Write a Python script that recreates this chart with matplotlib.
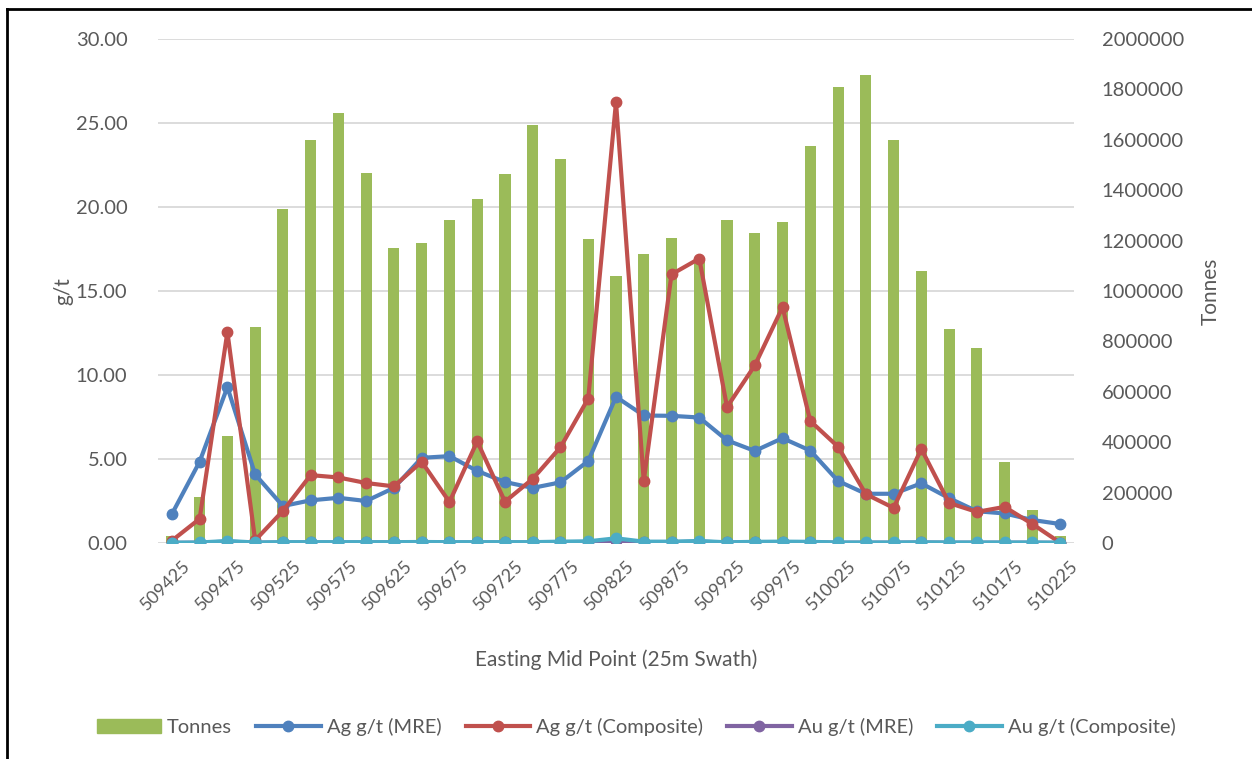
import numpy as np
import matplotlib
matplotlib.use("Agg")
from matplotlib import pyplot as plt
from matplotlib.patches import Patch
from matplotlib.lines import Line2D
import matplotlib.transforms as mtransforms

plt.rcParams["font.family"] = ["Lato", "DejaVu Sans"]

# swath mid points, 25 m apart
eastings = np.arange(509425, 510226, 25)

tonnes = [27000, 181000, 425000, 856000, 1324000, 1599000, 1706000, 1468000,
          1171000, 1189000, 1282000, 1364000, 1466000, 1658000, 1524000, 1207000,
          1059000, 1145000, 1212000, 1130000, 1283000, 1230000, 1274000, 1575000,
          1810000, 1858000, 1598000, 1081000, 850000, 772000, 321000, 130000, 29000]

ag_mre = [1.72, 4.84, 9.28, 4.08, 2.20, 2.54, 2.69, 2.50, 3.28, 5.07, 5.17,
          4.29, 3.63, 3.28, 3.61, 4.88, 8.70, 7.59, 7.57, 7.47, 6.11, 5.48,
          6.24, 5.50, 3.69, 2.93, 2.93, 3.55, 2.67, 1.89, 1.76, 1.37, 1.13]

ag_comp = [0.14, 1.44, 12.56, 0.16, 1.91, 4.04, 3.90, 3.57, 3.37, 4.84, 2.44,
           6.05, 2.46, 3.82, 5.70, 8.60, 26.25, 3.69, 15.99, 16.93, 8.09, 10.57,
           14.04, 7.26, 5.73, 2.91, 2.09, 5.60, 2.38, 1.85, 2.15, 1.13, 0.02]

au_mre = [0.01, 0.02, 0.08, 0.02, 0.03, 0.03, 0.03, 0.03, 0.03, 0.04, 0.03,
          0.03, 0.03, 0.03, 0.05, 0.06, 0.12, 0.05, 0.05, 0.08, 0.03, 0.05,
          0.05, 0.05, 0.02, 0.02, 0.02, 0.03, 0.02, 0.02, 0.02, 0.02, 0.01]

au_comp = [0.02, 0.03, 0.12, 0.03, 0.05, 0.05, 0.05, 0.05, 0.05, 0.06, 0.05,
           0.05, 0.05, 0.05, 0.08, 0.10, 0.28, 0.08, 0.08, 0.12, 0.04, 0.07,
           0.08, 0.07, 0.03, 0.03, 0.03, 0.04, 0.03, 0.03, 0.03, 0.03, 0.02]

green = "#9BBB59"
blue = "#4F81BD"
red = "#C0504D"
purple = "#8064A2"
cyan = "#4BACC6"
grey_text = "#595959"

fig = plt.figure(figsize=(12.52, 7.59), dpi=100)
ax = fig.add_axes([158 / 1252, 1 - 543 / 759, (1074 - 158) / 1252, (543 - 39) / 759])
ax2 = ax.twinx()

# bars live on the secondary axis, lines go on top
ax.set_zorder(ax2.get_zorder() + 1)
ax.patch.set_visible(False)

x = np.arange(len(eastings))

ax2.set_ylim(0, 2000000)
ax.set_ylim(0, 30)
ax.set_xlim(-0.5, len(x) - 0.5)

# horizontal grid from the left axis, drawn behind the bars
for v in np.arange(0, 30.01, 5):
    ax2.axhline(v / 30 * 2000000, color="#D9D9D9", lw=1.3, zorder=0)

ax2.bar(x, tonnes, width=0.4, color=green, zorder=2)

series = [(ag_mre, blue), (ag_comp, red), (au_mre, purple), (au_comp, cyan)]
for vals, col in series:
    ax.plot(x, vals, color=col, lw=3, marker="o", ms=7.5, solid_capstyle="round")

for a in (ax, ax2):
    for s in a.spines.values():
        s.set_visible(False)
    a.tick_params(length=0, colors=grey_text, labelsize=14.5)

ax.set_yticks(np.arange(0, 30.01, 5))
ax.set_yticklabels([f"{v:.2f}" for v in np.arange(0, 30.01, 5)])
ax.tick_params(axis="y", pad=22)
ax2.set_yticks(np.arange(0, 2000001, 200000))
ax2.set_yticklabels([f"{v:d}" for v in range(0, 2000001, 200000)])
ax2.tick_params(axis="y", pad=20)

ax.set_xticks(x[::2])
ax.set_xticklabels([str(e) for e in eastings[::2]], rotation=45, fontsize=13,
                   ha="right", va="center", rotation_mode="anchor")
offset = mtransforms.ScaledTranslation(16 / 100, -15 / 100, fig.dpi_scale_trans)
for lbl in ax.get_xticklabels():
    lbl.set_transform(lbl.get_transform() + offset)

ax.set_ylabel("g/t", fontsize=15, color=grey_text, labelpad=2)
ax2.set_ylabel("Tonnes", fontsize=15, color=grey_text, labelpad=12)
ax.set_xlabel("Easting Mid Point (25m Swath)", fontsize=15, color=grey_text, labelpad=26)

handles = [Patch(color=green, label="Tonnes")]
labels = ["Tonnes", "Ag g/t (MRE)", "Ag g/t (Composite)", "Au g/t (MRE)", "Au g/t (Composite)"]
for (vals, col), lab in zip(series, labels[1:]):
    handles.append(Line2D([], [], color=col, lw=3, marker="o", ms=7.5, label=lab))
fig.legend(handles=handles, labels=labels, loc="center", ncol=5,
           bbox_to_anchor=(0.508, 1 - 727 / 759), frameon=False, fontsize=14.5,
           labelcolor=grey_text, handlelength=3.2, handletextpad=0.3,
           columnspacing=1.2)

# outer chart frame (left and top edges)
fig.add_artist(Line2D([7 / 1252, 7 / 1252], [0, 1 - 9 / 759], color="black", lw=2,
                      transform=fig.transFigure))
fig.add_artist(Line2D([7 / 1252, 1], [1 - 9 / 759, 1 - 9 / 759], color="black", lw=2,
                      transform=fig.transFigure))

fig.savefig("out.png", dpi=100)
